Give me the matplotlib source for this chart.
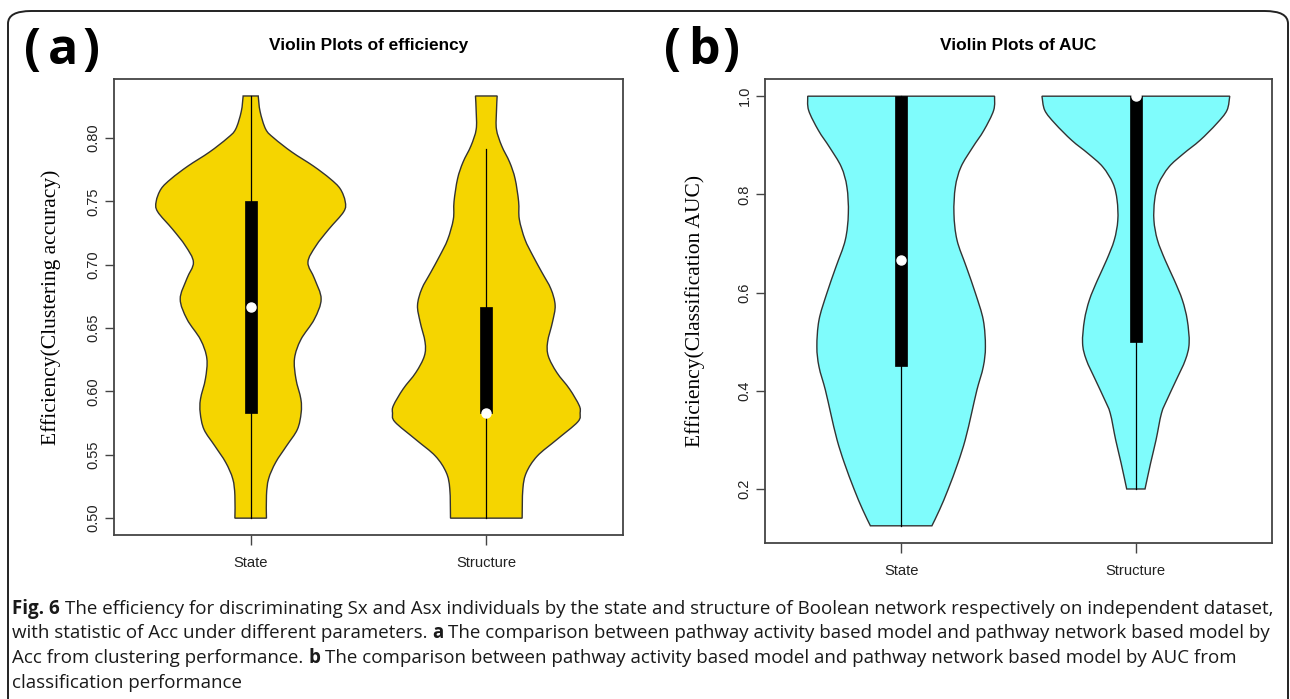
import numpy as np
import matplotlib
matplotlib.use('Agg')
import matplotlib.pyplot as plt
from matplotlib.path import Path
from matplotlib.patches import PathPatch, Rectangle, FancyBboxPatch

W, H = 1290, 699

# violin outlines: y value and half width (category units)
state_a_y = [0.500, 0.518, 0.531, 0.544, 0.557, 0.570, 0.583, 0.594, 0.610, 0.626,
             0.641, 0.657, 0.673, 0.689, 0.702, 0.715, 0.728, 0.742, 0.750, 0.760,
             0.768, 0.778, 0.789, 0.800, 0.807, 0.821, 0.8333]
state_a_hw = [0.067, 0.067, 0.076, 0.106, 0.152, 0.198, 0.214, 0.213, 0.192, 0.186,
              0.213, 0.270, 0.299, 0.271, 0.243, 0.277, 0.331, 0.395, 0.401, 0.380,
              0.337, 0.266, 0.175, 0.099, 0.064, 0.040, 0.032]
struct_a_y = [0.500, 0.523, 0.536, 0.549, 0.562, 0.576, 0.583, 0.589, 0.602, 0.615,
              0.628, 0.639, 0.655, 0.668, 0.681, 0.694, 0.707, 0.720, 0.736, 0.750,
              0.768, 0.781, 0.794, 0.807, 0.821, 0.8333]
struct_a_hw = [0.152, 0.155, 0.170, 0.216, 0.299, 0.388, 0.398, 0.394, 0.353, 0.299,
               0.263, 0.260, 0.281, 0.292, 0.274, 0.236, 0.198, 0.164, 0.140, 0.137,
               0.122, 0.099, 0.065, 0.043, 0.043, 0.046]

state_b_y = [0.125, 0.158, 0.199, 0.253, 0.300, 0.354, 0.402, 0.449, 0.490, 0.544,
             0.598, 0.652, 0.707, 0.761, 0.815, 0.856, 0.896, 0.930, 0.971, 1.000]
state_b_hw = [0.131, 0.164, 0.200, 0.242, 0.273, 0.300, 0.323, 0.350, 0.359, 0.350,
              0.317, 0.278, 0.238, 0.225, 0.231, 0.255, 0.305, 0.352, 0.394, 0.398]
struct_b_y = [0.200, 0.253, 0.300, 0.354, 0.382, 0.422, 0.463, 0.497, 0.544, 0.585,
              0.625, 0.666, 0.707, 0.747, 0.788, 0.822, 0.856, 0.883, 0.910, 0.944,
              0.971, 1.000]
struct_b_hw = [0.039, 0.063, 0.086, 0.109, 0.133, 0.172, 0.211, 0.227, 0.219, 0.198,
               0.164, 0.125, 0.092, 0.077, 0.080, 0.097, 0.141, 0.203, 0.273, 0.344,
               0.388, 0.400]

groups = ['State', 'Structure']

# box stats
a_lo = [0.5, 0.5]
a_q1 = [0.5833, 0.5833]
a_med = [0.6667, 0.5833]
a_q3 = [0.75, 0.6667]
a_hi = [0.8333, 0.7917]

b_lo = [0.125, 0.2]
b_q1 = [0.45, 0.5]
b_med = [0.6667, 1.0]
b_q3 = [1.0, 1.0]
b_hi = [1.0, 1.0]

a_ticks = [0.50, 0.55, 0.60, 0.65, 0.70, 0.75, 0.80]
b_ticks = [0.2, 0.4, 0.6, 0.8, 1.0]


def side_curve(pts):
    # catmull-rom through the read points -> bezier segments
    verts = []
    n = len(pts)
    for i in range(n - 1):
        p0 = pts[i - 1] if i > 0 else pts[i]
        p1 = pts[i]
        p2 = pts[i + 1]
        p3 = pts[i + 2] if i + 2 < n else pts[i + 1]
        verts += [p1 + (p2 - p0) / 6.0, p2 - (p3 - p1) / 6.0, p2]
    return verts


def draw_violin(ax, pos, ys, hws, color):
    ys = np.array(ys)
    hws = np.array(hws)
    right = [np.array([pos + w, y]) for y, w in zip(ys, hws)]
    left = [np.array([pos - w, y]) for y, w in zip(ys[::-1], hws[::-1])]
    verts = [right[0]]
    codes = [Path.MOVETO]
    rv = side_curve(right)
    verts += rv
    codes += [Path.CURVE4] * len(rv)
    verts.append(left[0])
    codes.append(Path.LINETO)
    lv = side_curve(left)
    verts += lv
    codes += [Path.CURVE4] * len(lv)
    verts.append(right[0])
    codes.append(Path.CLOSEPOLY)
    patch = PathPatch(Path(verts, codes), facecolor=color, edgecolor='#333333', lw=1.0, zorder=2)
    ax.add_patch(patch)


def draw_box(ax, pos, lo, q1, med, q3, hi):
    ax.plot([pos, pos], [lo, hi], color='black', lw=0.9, zorder=3)
    ax.add_patch(Rectangle((pos - 0.025, q1), 0.05, q3 - q1, facecolor='black',
                           edgecolor='black', lw=0.5, zorder=4))
    ax.plot([pos], [med], 'o', color='white', ms=6.5, mec='white', zorder=5, clip_on=False)


def style_axes(ax, ticks, fmt, ylim):
    ax.set_xlim(0.42, 2.58)
    ax.set_ylim(*ylim)
    ax.set_xticks([1, 2])
    ax.set_xticklabels(groups, fontsize=10.6, family='Liberation Sans', color='#222222')
    ax.set_yticks(ticks)
    ax.set_yticklabels([fmt % t for t in ticks], fontsize=10.5, family='Liberation Sans',
                       color='#222222', rotation=90, va='center')
    ax.tick_params(axis='y', length=6.5, width=1.0, pad=3, color='#444444')
    ax.tick_params(axis='x', length=7, width=1.0, pad=8, color='#444444')
    for s in ax.spines.values():
        s.set_color('#444444')
        s.set_linewidth(1.3)


fig = plt.figure(figsize=(W / 100, H / 100), dpi=100)

# panel (a)
ax1 = fig.add_axes([114 / W, 1 - 535 / H, (623 - 114) / W, (535 - 79) / H])
draw_violin(ax1, 1, state_a_y, state_a_hw, '#F5D500')
draw_violin(ax1, 2, struct_a_y, struct_a_hw, '#F5D500')
for i in range(2):
    draw_box(ax1, i + 1, a_lo[i], a_q1[i], a_med[i], a_q3[i], a_hi[i])
style_axes(ax1, a_ticks, '%.2f', (0.4867, 0.8467))
ax1.set_title('Violin Plots of efficiency', fontsize=12.4, fontweight='bold',
              family='Liberation Sans', pad=21)
ax1.set_ylabel('Efficiency(Clustering accuracy)', fontsize=15.5, family='Liberation Serif')
ax1.yaxis.set_label_coords(-0.104, 0.5)

# panel (b)
ax2 = fig.add_axes([765 / W, 1 - 543 / H, (1272 - 765) / W, (543 - 79) / H])
draw_violin(ax2, 1, state_b_y, state_b_hw, '#7FFCFC')
draw_violin(ax2, 2, struct_b_y, struct_b_hw, '#7FFCFC')
for i in range(2):
    draw_box(ax2, i + 1, b_lo[i], b_q1[i], b_med[i], b_q3[i], b_hi[i])
style_axes(ax2, b_ticks, '%.1f', (0.09, 1.035))
ax2.set_title('Violin Plots of AUC', fontsize=12.4, fontweight='bold',
              family='Liberation Sans', pad=21)
ax2.set_ylabel('Efficiency(Classification AUC)', fontsize=15.5, family='Liberation Serif')
ax2.yaxis.set_label_coords(-0.118, 0.5)

# panel letters, glyphs spaced out like the original
for x0, letter in [(24, 'a'), (664, 'b')]:
    for dx, ch in [(0, '('), (24, letter), (58, ')')]:
        fig.text((x0 + dx) / W, 1 - 51 / H, ch, fontsize=36, fontweight='bold',
                 family='Open Sans', va='center', ha='left')

# rounded border
border = FancyBboxPatch((8 / W, -0.1), (1288 - 8) / W, (H - 11) / H + 0.1,
                        boxstyle='round,pad=0,rounding_size=0.018', transform=fig.transFigure,
                        facecolor='none', edgecolor='#222222', lw=1.4, zorder=0)
fig.patches.append(border)

# caption
renderer = fig.canvas.get_renderer()
cap_font = 'Open Sans'


def text_width(s, size, weight='normal'):
    t = fig.text(0, 0, s, fontsize=size, fontweight=weight, family=cap_font)
    w = t.get_window_extent(renderer).width
    t.remove()
    return w


line1 = [('Fig. 6', True), ('The efficiency for discriminating Sx and Asx individuals by the state '
                            'and structure of Boolean network respectively on independent dataset,', False)]
line2 = [('with statistic of Acc under different parameters.', False), ('a', True),
         ('The comparison between pathway activity based model and pathway network based model by', False)]
line3 = [('Acc from clustering performance.', False), ('b', True),
         ('The comparison between pathway activity based model and pathway network based model by AUC from', False)]
line4 = [('classification performance', False)]

# size the caption so the first line spans the box
base = 10.0
w_base = sum(text_width(s, base, 'bold' if b else 'normal') for s, b in line1)
sp_base = text_width('a a', base) - text_width('aa', base)
cap_size = base * 1266 / (w_base + sp_base)
space_w = text_width('a a', cap_size) - text_width('aa', cap_size)

for y, runs in zip([614, 638.5, 663, 687.5], [line1, line2, line3, line4]):
    x = 12
    for s, b in runs:
        t = fig.text(x / W, 1 - y / H, s, fontsize=cap_size, fontweight='bold' if b else 'normal',
                     family=cap_font, va='baseline', ha='left', color='#1a1a1a')
        x = t.get_window_extent(renderer).x1 + space_w

fig.savefig('out.png', dpi=100)
